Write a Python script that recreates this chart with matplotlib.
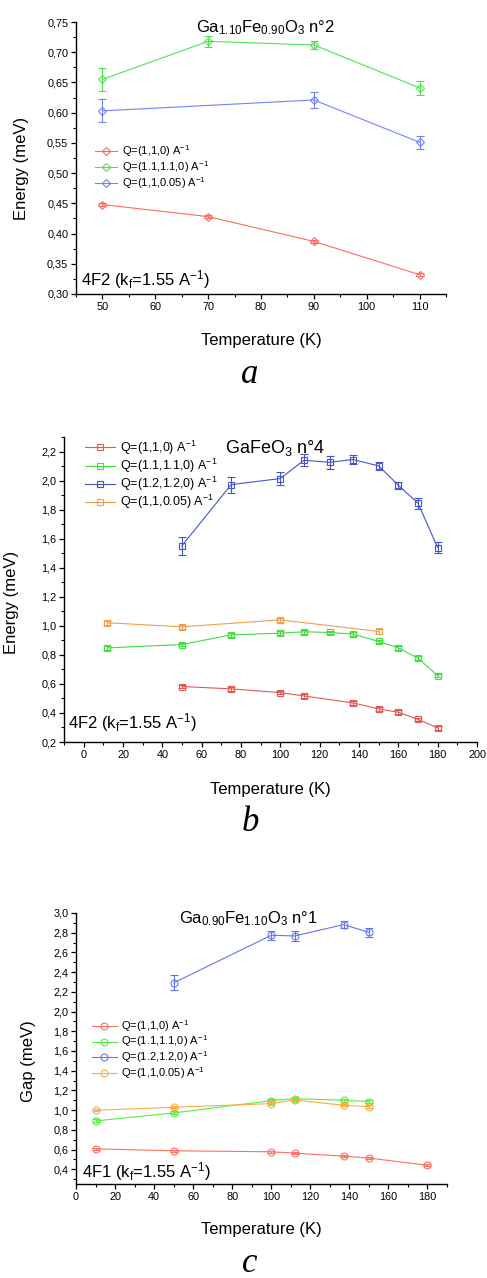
import numpy as np
import matplotlib
matplotlib.use("Agg")
import matplotlib.pyplot as plt
from matplotlib.ticker import MultipleLocator, FuncFormatter

plt.rcParams["font.family"] = ["Liberation Sans", "DejaVu Sans"]
plt.rcParams["mathtext.fontset"] = "custom"
plt.rcParams["mathtext.rm"] = "Liberation Sans"
plt.rcParams["mathtext.it"] = "Liberation Sans:italic"
plt.rcParams["mathtext.bf"] = "Liberation Sans:bold"

#---------------- datos (a) Ga1.10Fe0.90O3 n°2 --------#
Ta = [50, 70, 90, 110]
a_110 = [0.448, 0.428, 0.387, 0.332]
a_110_err = [0.003, 0.003, 0.003, 0.003]
a_11110 = [0.655, 0.718, 0.712, 0.641]
a_11110_err = [0.019, 0.009, 0.007, 0.011]
Ta_blue = [50, 90, 110]
a_1105 = [0.603, 0.621, 0.551]
a_1105_err = [0.019, 0.014, 0.011]

#---------------- datos (b) GaFeO3 n°4 --------#
Tb_red = [50, 75, 100, 112, 137, 150, 160, 170, 180]
b_110 = [0.582, 0.566, 0.540, 0.517, 0.469, 0.428, 0.405, 0.356, 0.297]
Tb_green = [12, 50, 75, 100, 112, 125, 137, 150, 160, 170, 180]
b_11110 = [0.848, 0.871, 0.938, 0.949, 0.959, 0.954, 0.943, 0.892, 0.848, 0.777, 0.657]
Tb_blue = [50, 75, 100, 112, 125, 137, 150, 160, 170, 180]
b_12120 = [1.552, 1.972, 2.014, 2.140, 2.126, 2.145, 2.101, 1.968, 1.844, 1.538]
b_12120_err = [0.062, 0.055, 0.046, 0.041, 0.044, 0.032, 0.029, 0.023, 0.037, 0.039]
Tb_orange = [12, 50, 100, 150]
b_1105 = [1.021, 0.993, 1.041, 0.961]

#---------------- datos (c) Ga0.90Fe1.10O3 n°1 --------#
Tc_red = [10, 50, 100, 112, 137, 150, 180]
c_110 = [0.607, 0.587, 0.577, 0.563, 0.533, 0.513, 0.440]
Tc = [10, 50, 100, 112, 137, 150]
c_11110 = [0.890, 0.971, 1.096, 1.116, 1.100, 1.086]
c_1105 = [0.998, 1.029, 1.066, 1.103, 1.049, 1.035]
Tc_blue = [50, 100, 112, 137, 150]
c_12120 = [2.291, 2.774, 2.767, 2.882, 2.804]
c_12120_err = [0.076, 0.044, 0.047, 0.034, 0.047]

lab_110 = "Q=(1,1,0) A$^{-1}$"
lab_11110 = "Q=(1.1,1.1,0) A$^{-1}$"
lab_12120 = "Q=(1.2,1.2,0) A$^{-1}$"
lab_1105 = "Q=(1,1,0.05) A$^{-1}$"

W, H = 487, 1278
fig = plt.figure(figsize=(W/100, H/100), dpi=100)


def caja(l, t, r, b):
    return fig.add_axes([l/W, 1-b/H, (r-l)/W, (b-t)/H])


def estilo(ax, xmaj, ymaj, dec):
    ax.spines["top"].set_visible(False)
    ax.spines["right"].set_visible(False)
    for s in ["left", "bottom"]:
        ax.spines[s].set_linewidth(1.0)
    ax.xaxis.set_major_locator(MultipleLocator(xmaj))
    ax.xaxis.set_minor_locator(MultipleLocator(xmaj/2))
    ax.yaxis.set_major_locator(MultipleLocator(ymaj))
    ax.yaxis.set_minor_locator(MultipleLocator(ymaj/2))
    ax.yaxis.set_major_formatter(FuncFormatter(lambda v, p: f"{v:.{dec}f}".replace(".", ",")))
    ax.tick_params(which="major", direction="out", length=3.5, width=0.9, labelsize=7.8, pad=2)
    ax.tick_params(which="minor", direction="out", length=2, width=0.8)


def serie(ax, x, y, err, color, marker, ms, label):
    c = ax.errorbar(x, y, yerr=err, color=color, marker=marker, ms=ms, mfc="none",
                    mec=color, mew=0.8, lw=0.8, elinewidth=0.8, capsize=3.2, capthick=0.8)
    # solo la linea con marcador para la leyenda
    c[0].set_label(label)
    return c[0]


def leyenda(ax, lineas, pos, fs, hl, tp, ls):
    ax.legend(handles=lineas, loc="upper left", bbox_to_anchor=pos, frameon=False,
              fontsize=fs, handlelength=hl, handletextpad=tp, labelspacing=ls,
              borderpad=0, borderaxespad=0)


kf_txt = "(k$_\\mathrm{f}$=1.55 A$^{-1}$)"

#---------------- (a) --------#
ax = caja(76, 22, 446, 294)
red_a, green_a, blue_a = "#ff6a5e", "#4ee44e", "#7384f7"
l1 = serie(ax, Ta, a_110, a_110_err, red_a, "D", 4.3, lab_110)
l2 = serie(ax, Ta, a_11110, a_11110_err, green_a, "D", 4.3, lab_11110)
l3 = serie(ax, Ta_blue, a_1105, a_1105_err, blue_a, "D", 4.3, lab_1105)
ax.set_xlim(45, 115)
ax.set_ylim(0.30, 0.75)
estilo(ax, 10, 0.05, 2)
ax.set_xlabel("Temperature (K)", fontsize=12)
ax.xaxis.set_label_coords(0.5, -0.143)
ax.set_ylabel("Energy (meV)", fontsize=12)
ax.yaxis.set_label_coords(-0.127, 0.46)
ax.text(0.511, 0.963, "Ga$_{1.10}$Fe$_{0.90}$O$_3$ n°2", transform=ax.transAxes,
        ha="center", va="baseline", fontsize=12)
ax.text(0.0135, 0.033, "4F2 " + kf_txt, transform=ax.transAxes,
        ha="left", va="baseline", fontsize=12)
leyenda(ax, [l1, l2, l3], (0.051, 0.555), 8, 2.0, 0.45, 0.02)

#---------------- (b) --------#
ax = caja(64, 437, 477, 742)
red_b, green_b, blue_b, orange_b = "#e05a55", "#44dd44", "#4455cc", "#f0a050"
l1 = serie(ax, Tb_red, b_110, 0.012, red_b, "s", 4.6, lab_110)
l2 = serie(ax, Tb_green, b_11110, 0.012, green_b, "s", 4.6, lab_11110)
l3 = serie(ax, Tb_blue, b_12120, b_12120_err, blue_b, "s", 4.6, lab_12120)
l4 = serie(ax, Tb_orange, b_1105, 0.015, orange_b, "s", 4.6, lab_1105)
ax.set_xlim(-10, 200)
ax.set_ylim(0.2, 2.3)
estilo(ax, 20, 0.2, 1)
ax.set_xlabel("Temperature (K)", fontsize=12)
ax.xaxis.set_label_coords(0.5, -0.131)
ax.set_ylabel("Energy (meV)", fontsize=12)
ax.yaxis.set_label_coords(-0.108, 0.459)
ax.text(0.511, 0.948, "GaFeO$_3$ n°4", transform=ax.transAxes,
        ha="center", va="baseline", fontsize=13)
ax.text(0.01, 0.046, "4F2 " + kf_txt, transform=ax.transAxes,
        ha="left", va="baseline", fontsize=12)
leyenda(ax, [l1, l2, l3, l4], (0.051, 0.995), 9, 2.4, 0.4, 0.0)

#---------------- (c) --------#
ax = caja(76, 913, 447, 1184)
red_c, green_c, blue_c, orange_c = "#ff7060", "#55ee44", "#6677ee", "#ffaa44"
l1 = serie(ax, Tc_red, c_110, 0.012, red_c, "o", 5, lab_110)
l2 = serie(ax, Tc, c_11110, 0.015, green_c, "o", 5, lab_11110)
l3 = serie(ax, Tc_blue, c_12120, c_12120_err, blue_c, "o", 5, lab_12120)
l4 = serie(ax, Tc, c_1105, 0.012, orange_c, "o", 5, lab_1105)
ax.set_xlim(0, 190)
ax.set_ylim(0.25, 3.0)
estilo(ax, 20, 0.2, 1)
ax.set_xlabel("Temperature (K)", fontsize=12)
ax.xaxis.set_label_coords(0.5, -0.14)
ax.set_ylabel("Gap (meV)", fontsize=12)
ax.yaxis.set_label_coords(-0.108, 0.454)
ax.text(0.466, 0.963, "Ga$_{0.90}$Fe$_{1.10}$O$_3$ n°1", transform=ax.transAxes,
        ha="center", va="baseline", fontsize=12)
ax.text(0.016, 0.026, "4F1 " + kf_txt, transform=ax.transAxes,
        ha="left", va="baseline", fontsize=12)
leyenda(ax, [l1, l2, l3, l4], (0.043, 0.613), 8, 2.25, 0.35, 0.0)

# letras de los paneles
for letra, yb in [("a", 383), ("b", 831), ("c", 1272)]:
    fig.text(250/W, 1-yb/H, letra, ha="center", va="baseline", fontsize=25,
             family="Liberation Serif", style="italic")

plt.savefig("out.png", dpi=100)
